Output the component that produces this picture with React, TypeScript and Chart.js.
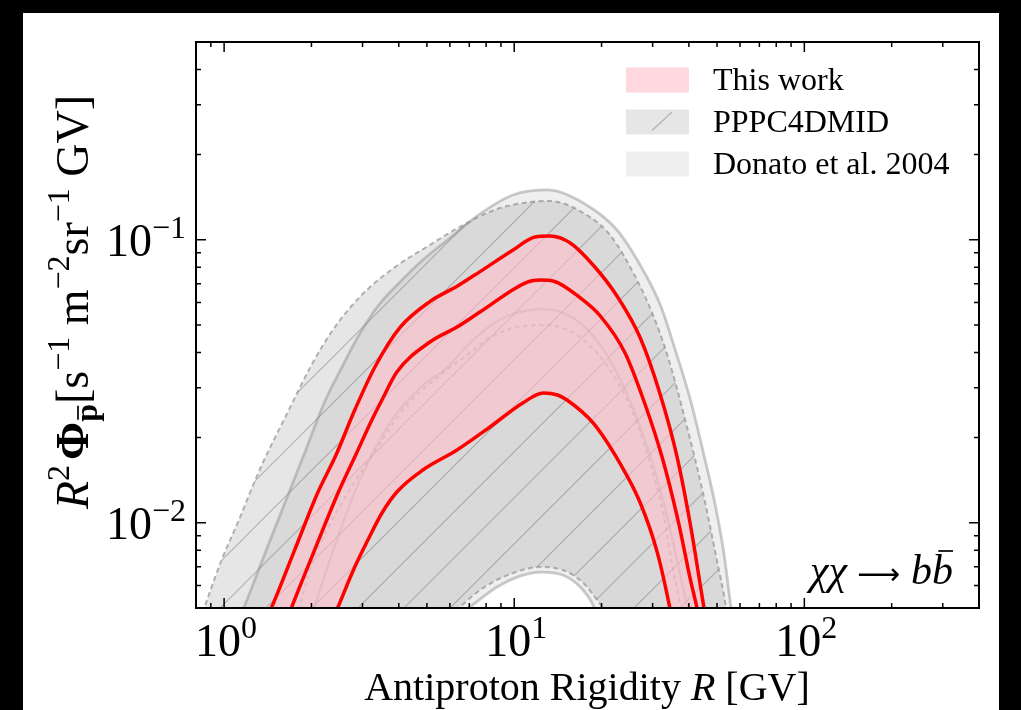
import React, { useEffect, useRef } from "react";
import { Chart, registerables } from "chart.js";

Chart.register(...registerables);

const SERIF = "'Liberation Serif', 'DejaVu Serif', 'Times New Roman', serif";

// Rigidity R [GV] and R^2 * flux [s^-1 m^-2 sr^-1 GV]
const donatoUpperR = [1.10, 1.18, 1.38, 1.62, 1.90, 2.22, 2.55, 2.89, 3.39, 4.04, 4.84, 6.0, 7.62, 9.9, 13.0, 17.3, 22.6, 27.8, 31.9, 35.9, 40.5, 44.9, 49.3, 52.6, 55.6, 56.9];
const donatoUpperFlux = [0.00435, 0.00512, 0.00776, 0.01175, 0.01779, 0.02673, 0.03553, 0.04535, 0.05835, 0.07094, 0.08484, 0.1015, 0.1234, 0.144, 0.15, 0.1349, 0.1083, 0.07818, 0.05883, 0.04079, 0.02716, 0.01764, 0.01156, 0.00801, 0.00521, 0.00435];
const donatoLowerR = [1.10, 5.82, 7.04, 8.72, 10.5, 12.3, 14.7, 16.9, 18.7, 19.8, 56.9];
const donatoLowerFlux = [0.0001, 0.00435, 0.00504, 0.00593, 0.00649, 0.0067, 0.00654, 0.00593, 0.00512, 0.00435, 0.0001];

const pppcUpperR = [0.823, 0.856, 0.98, 1.113, 1.326, 1.683, 2.0, 2.41, 2.98, 3.88, 5.12, 6.66, 8.72, 11.3, 13.3, 17.3, 21.4, 26.5, 30.1, 33.7, 39.5, 44.9, 50.1, 53.4, 54.7];
const pppcUpperFlux = [0.0045, 0.00504, 0.00739, 0.00998, 0.0154, 0.0254, 0.0361, 0.0492, 0.0638, 0.0801, 0.0959, 0.1128, 0.1285, 0.136, 0.1371, 0.1244, 0.104, 0.0721, 0.0542, 0.0392, 0.0216, 0.01254, 0.00727, 0.00521, 0.00435];
const pppcLowerR = [0.823, 5.55, 6.5, 7.8, 9.9, 12.3, 14.7, 17.3, 19.3, 20.1, 21.8, 54.7];
const pppcLowerFlux = [0.0001, 0.00435, 0.00504, 0.00588, 0.00665, 0.00698, 0.00681, 0.00613, 0.00534, 0.00504, 0.00435, 0.0001];

const donatoMedR = [1.96, 2.05, 2.41, 2.94, 3.73, 4.84, 5.86, 6.66, 8.25, 9.91, 12.6, 16.0, 19.8, 23.7, 27.8, 31.9, 35.3, 39.2, 40.5];
const donatoMedFlux = [0.00435, 0.00504, 0.00835, 0.01417, 0.02253, 0.03068, 0.03524, 0.04079, 0.04959, 0.05467, 0.05694, 0.05293, 0.04248, 0.03068, 0.02043, 0.01306, 0.00848, 0.00521, 0.00435];
const pppcMedR = [1.74, 1.82, 2.0, 2.26, 2.71, 3.36, 4.27, 5.55, 6.66, 8.25, 9.91, 13.0, 17.3, 21.4, 25.7, 29.4, 32.6, 35.3, 37.4, 38.3];
const pppcMedFlux = [0.00435, 0.00504, 0.0071, 0.00943, 0.01306, 0.01838, 0.02608, 0.03329, 0.03824, 0.04498, 0.04878, 0.05, 0.04426, 0.03467, 0.02443, 0.01627, 0.01083, 0.00681, 0.00504, 0.00435];

const workMaxR = [1.41, 1.46, 1.75, 2.10, 2.43, 2.82, 3.31, 4.04, 5.12, 6.35, 7.62, 9.91, 11.8, 13.3, 15.6, 18.7, 22.6, 27.2, 31.9, 36.5, 40.5, 43.5, 45.2, 45.9];
const workMaxFlux = [0.00465, 0.00504, 0.00801, 0.01275, 0.01736, 0.02504, 0.03553, 0.049, 0.0605, 0.0685, 0.0772, 0.09204, 0.1023, 0.1031, 0.09743, 0.08147, 0.06331, 0.04498, 0.02829, 0.01694, 0.00982, 0.00628, 0.00492, 0.00446];
const workMedR = [1.66, 1.71, 2.05, 2.47, 2.82, 3.23, 3.50, 3.94, 5.12, 6.35, 7.62, 11.1, 12.3, 13.6, 16.9, 19.8, 24.1, 28.3, 32.4, 36.8, 40.5, 42.8, 43.5];
const workMedFlux = [0.00465, 0.00504, 0.00801, 0.01275, 0.01708, 0.02308, 0.02716, 0.0341, 0.04354, 0.04918, 0.05557, 0.07094, 0.07211, 0.07153, 0.06229, 0.0538, 0.03982, 0.02608, 0.01694, 0.01007, 0.00628, 0.00492, 0.00446];
const workMinR = [1.41, 2.39, 2.47, 2.82, 3.13, 3.50, 3.94, 4.84, 6.35, 8.25, 10.7, 12.6, 14.1, 15.2, 18.7, 23.1, 27.2, 31.1, 34.5, 35.1, 45.9];
const workMinFlux = [0.0013, 0.00465, 0.00504, 0.00698, 0.00869, 0.01083, 0.01285, 0.01537, 0.01808, 0.02181, 0.02651, 0.02875, 0.02829, 0.02716, 0.02253, 0.01627, 0.01175, 0.00788, 0.00492, 0.00446, 0.00125];

const xRange = [0.8, 400];
const yRange = [0.005, 0.5];
const xMajorTicks = [1, 10, 100];
const xTickExponents = ["0", "1", "2"];
const xMinorTicks = [0.9, 2, 3, 4, 5, 6, 7, 8, 9, 20, 30, 40, 50, 60, 70, 80, 90, 200, 300];
const yMajorTicks = [0.01, 0.1];
const yTickExponents = ["\u22122", "\u22121"];
const yMinorTicks = [0.006, 0.007, 0.008, 0.009, 0.02, 0.03, 0.04, 0.05, 0.06, 0.07, 0.08, 0.09, 0.2, 0.3, 0.4];
const legendLabels = ["This work", "PPPC4DMID", "Donato et al. 2004"];

const PINK = "rgba(255,192,203,0.62)";
const PPPC_FILL = "rgba(128,128,128,0.2)";
const DONATO_FILL = "rgba(128,128,128,0.13)";
const HATCH_LINE = "rgba(95,95,95,0.38)";

const pts = (xs: number[], ys: number[]) => xs.map((x, i) => ({ x, y: ys[i] }));

type Run = { t: string; f: string; dy?: number; bar?: [number, number, number]; w?: number };

function drawRuns(ctx: CanvasRenderingContext2D, runs: Run[], x: number, y: number, align: "left" | "center" | "right") {
  const ws = runs.map((r) => {
    if (r.w !== undefined) return r.w;
    ctx.font = r.f;
    return ctx.measureText(r.t).width;
  });
  const total = ws.reduce((s, w) => s + w, 0);
  let cx = align === "center" ? x - total / 2 : align === "right" ? x - total : x;
  runs.forEach((r, i) => {
    ctx.font = r.f;
    const by = y + (r.dy || 0);
    if (r.t.trim()) ctx.fillText(r.t, cx, by);
    if (r.bar) {
      const [rise, a, b] = r.bar;
      ctx.save();
      ctx.lineWidth = 1.7;
      ctx.strokeStyle = "#000";
      ctx.beginPath();
      ctx.moveTo(cx + ws[i] * a, by - rise);
      ctx.lineTo(cx + ws[i] * b, by - rise);
      ctx.stroke();
      ctx.restore();
    }
    cx += ws[i];
  });
}

function makeHatch(): CanvasPattern | string {
  const s = 46;
  const c = document.createElement("canvas");
  c.width = s;
  c.height = s;
  const g = c.getContext("2d");
  if (!g) return PPPC_FILL;
  g.fillStyle = PPPC_FILL;
  g.fillRect(0, 0, s, s);
  g.strokeStyle = HATCH_LINE;
  g.lineWidth = 1.2;
  g.beginPath();
  for (const k of [0, s, 2 * s]) {
    g.moveTo(k + 2, -2);
    g.lineTo(-2, k + 2);
  }
  g.stroke();
  const p = g.createPattern(c, "repeat");
  return p || PPPC_FILL;
}

const decorPlugin = {
  id: "decor",
  beforeDraw(chart: any) {
    const { ctx, width, height } = chart;
    ctx.save();
    ctx.fillStyle = "#000";
    ctx.fillRect(0, 0, width, height);
    ctx.fillStyle = "#fff";
    ctx.fillRect(23, 13, 976, height - 13);
    ctx.restore();
  },
  afterDatasetsDraw(chart: any) {
    const { ctx, chartArea: a } = chart;
    const xs = chart.scales.x;
    const ys = chart.scales.y;
    ctx.save();
    ctx.strokeStyle = "#000";
    ctx.lineWidth = 1.5;
    ctx.beginPath();
    const xt = (v: number, len: number) => {
      const p = xs.getPixelForValue(v);
      ctx.moveTo(p, a.bottom);
      ctx.lineTo(p, a.bottom - len);
      ctx.moveTo(p, a.top);
      ctx.lineTo(p, a.top + len);
    };
    const yt = (v: number, len: number) => {
      const p = ys.getPixelForValue(v);
      ctx.moveTo(a.left, p);
      ctx.lineTo(a.left + len, p);
      ctx.moveTo(a.right, p);
      ctx.lineTo(a.right - len, p);
    };
    xMajorTicks.forEach((v) => xt(v, 10));
    xMinorTicks.forEach((v) => xt(v, 5));
    yMajorTicks.forEach((v) => yt(v, 10));
    yMinorTicks.forEach((v) => yt(v, 5));
    ctx.stroke();
    ctx.lineWidth = 2;
    ctx.strokeRect(a.left, a.top, a.right - a.left, a.bottom - a.top);
    ctx.restore();
  },
  afterDraw(chart: any) {
    const { ctx, chartArea: a } = chart;
    const xs = chart.scales.x;
    const ys = chart.scales.y;
    ctx.save();
    ctx.fillStyle = "#000";
    ctx.textBaseline = "alphabetic";
    // tick labels
    xMajorTicks.forEach((v, i) => {
      const p = xs.getPixelForValue(v);
      drawRuns(ctx, [
        { t: "10", f: `46px ${SERIF}` },
        { t: xTickExponents[i], f: `32px ${SERIF}`, dy: -18 },
      ], p + 2, a.bottom + 48, "center");
    });
    yMajorTicks.forEach((v, i) => {
      const p = ys.getPixelForValue(v);
      drawRuns(ctx, [
        { t: "10", f: `46px ${SERIF}` },
        { t: yTickExponents[i], f: `32px ${SERIF}`, dy: -18 },
      ], a.left - 10, p + 16, "right");
    });
    // x title
    drawRuns(ctx, [
      { t: "Antiproton Rigidity ", f: `40px ${SERIF}` },
      { t: "R", f: `italic 40px ${SERIF}` },
      { t: " [GV]", f: `40px ${SERIF}` },
    ], 587, 700, "center");
    // y title
    ctx.save();
    ctx.translate(88, 302);
    ctx.rotate(-Math.PI / 2);
    drawRuns(ctx, [
      { t: "R", f: `italic 46px ${SERIF}` },
      { t: "2", f: `32px ${SERIF}`, dy: -19 },
      { t: " ", f: `20px ${SERIF}` },
      { t: "\u03A6", f: `bold 46px ${SERIF}` },
      { t: "p", f: `bold 32px ${SERIF}`, dy: 9, bar: [19, 0.12, 0.9] },
      { t: "[s", f: `46px ${SERIF}` },
      { t: "\u22121", f: `32px ${SERIF}`, dy: -19 },
      { t: " m", f: `46px ${SERIF}` },
      { t: "\u22122", f: `32px ${SERIF}`, dy: -19 },
      { t: "sr", f: `46px ${SERIF}` },
      { t: "\u22121", f: `32px ${SERIF}`, dy: -19 },
      { t: " GV]", f: `46px ${SERIF}` },
    ], 0, 0, "center");
    ctx.restore();
    // annotation
    drawRuns(ctx, [
      { t: "\u03C7\u03C7", f: `italic 42px ${SERIF}` },
      { t: " ", f: `30px ${SERIF}`, w: 10 },
      { t: "\u27F6", f: `30px 'DejaVu Sans', ${SERIF}` },
      { t: " ", f: `30px ${SERIF}`, w: 11 },
      { t: "b", f: `italic 42px ${SERIF}` },
      { t: "b", f: `italic 42px ${SERIF}`, bar: [33, 0.3, 1.0] },
    ], 953, 584, "right");
    // legend
    const lx = 626, lw = 63, lh = 25;
    const rows = [80, 122, 164];
    const fills = [PINK, PPPC_FILL, DONATO_FILL];
    rows.forEach((cy, i) => {
      ctx.fillStyle = fills[i];
      ctx.fillRect(lx, cy - lh / 2, lw, lh);
      if (i === 1) {
        ctx.strokeStyle = HATCH_LINE;
        ctx.lineWidth = 1.2;
        ctx.beginPath();
        ctx.moveTo(lx + 26, cy + 8.5);
        ctx.lineTo(lx + 46, cy - 10);
        ctx.stroke();
      }
      ctx.fillStyle = "#000";
      ctx.font = `32px ${SERIF}`;
      ctx.fillText(legendLabels[i], 713, cy + 10);
    });
    ctx.restore();
  },
};

export default function App() {
  const ref = useRef<HTMLCanvasElement>(null);
  useEffect(() => {
    const canvas = ref.current;
    if (!canvas) return;
    const hatch = makeHatch();
    const line = (data: any[], color: string, width: number, order: number, dash: number[] = []) => ({
      data,
      borderColor: color,
      borderWidth: width,
      borderDash: dash,
      backgroundColor: "rgba(0,0,0,0)",
      fill: false,
      order,
    });
    const band = (data: any[], target: number, bg: any, order: number) => ({
      data,
      borderColor: "rgba(0,0,0,0)",
      borderWidth: 0,
      backgroundColor: bg,
      fill: target,
      order,
    });
    const chart = new Chart(canvas, {
      type: "line",
      data: {
        datasets: [
          line(pts(workMaxR, workMaxFlux), "#ff0000", 3.5, 0),
          line(pts(workMedR, workMedFlux), "#ff0000", 3.5, 0),
          line(pts(workMinR, workMinFlux), "#ff0000", 3.5, 0),
          band(pts(workMaxR, workMaxFlux), 2, PINK, 1),
          line(pts(donatoMedR, donatoMedFlux), "rgba(130,130,130,0.35)", 2.2, 2),
          line(pts(pppcMedR, pppcMedFlux), "rgba(130,130,130,0.45)", 2.2, 2, [4, 4]),
          line(pts(pppcUpperR, pppcUpperFlux), "rgba(140,140,140,0.65)", 2, 3, [5, 3.5]),
          line(pts(pppcLowerR, pppcLowerFlux), "rgba(140,140,140,0.65)", 2, 3, [5, 3.5]),
          line(pts(donatoUpperR, donatoUpperFlux), "rgba(140,140,140,0.45)", 2.8, 4),
          line(pts(donatoLowerR, donatoLowerFlux), "rgba(140,140,140,0.45)", 2.8, 4),
          band(pts(pppcUpperR, pppcUpperFlux), 7, hatch, 5),
          band(pts(donatoUpperR, donatoUpperFlux), 9, DONATO_FILL, 6),
        ] as any,
      },
      options: {
        responsive: false,
        devicePixelRatio: 1,
        animation: false,
        events: [],
        layout: { padding: { left: 196, right: 42, top: 42, bottom: 102 } },
        elements: {
          point: { radius: 0, hoverRadius: 0 },
          line: { cubicInterpolationMode: "monotone", capBezierPoints: false, borderCapStyle: "butt" },
        },
        scales: {
          x: { type: "logarithmic", min: xRange[0], max: xRange[1], display: false },
          y: { type: "logarithmic", min: yRange[0], max: yRange[1], display: false },
        },
        plugins: {
          legend: { display: false },
          tooltip: { enabled: false },
        },
      } as any,
      plugins: [decorPlugin],
    });
    return () => chart.destroy();
  }, []);
  return (
    <div style={{ position: "absolute", left: 0, top: 0, width: 1021, height: 710, background: "#000" }}>
      <canvas ref={ref} width={1021} height={710} style={{ display: "block", width: 1021, height: 710 }} />
    </div>
  );
}
